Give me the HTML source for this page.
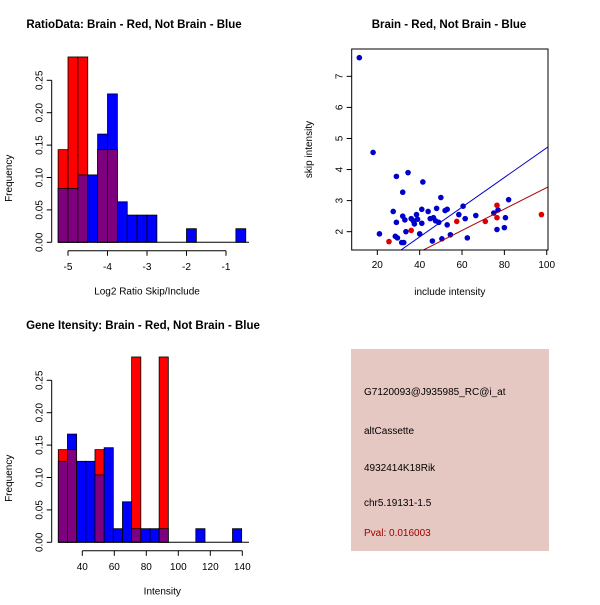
<!DOCTYPE html>
<html><head><meta charset="utf-8"><style>
body{margin:0;background:#fff}
svg text{font-family:"Liberation Sans",sans-serif}
</style></head><body>
<svg id="c" width="600" height="600" xmlns="http://www.w3.org/2000/svg">
<rect width="600" height="600" fill="#fff"/>
<text x="134" y="28" font-size="11.5" font-weight="bold" text-anchor="middle">RatioData: Brain - Red, Not Brain - Blue</text>
<text x="449" y="28" font-size="11.5" font-weight="bold" text-anchor="middle">Brain - Red, Not Brain - Blue</text>
<text x="143" y="329" font-size="11.5" font-weight="bold" text-anchor="middle">Gene Itensity: Brain - Red, Not Brain - Blue</text>
<g id="h1"></g>
<g id="h2"></g>
<g id="sc"></g>
<g>
<rect x="351" y="349" width="198" height="202" fill="#e6c8c2"/>
<text x="364" y="395" font-size="10">G7120093@J935985_RC@i_at</text>
<text x="364" y="434" font-size="10">altCassette</text>
<text x="364" y="471" font-size="10">4932414K18Rik</text>
<text x="364" y="506" font-size="10">chr5.19131-1.5</text>
<text x="364" y="536" font-size="10" fill="#a00000">Pval: 0.016003</text>
</g>
</svg>
<script>
// Ratio histogram data
const h1Start = -5.25, h1Width = 0.25;
const h1Red = [0.143,0.286,0.286,0,0.143,0.143,0,0,0,0,0,0,0,0,0,0,0,0,0];
const h1Blue = [0.083,0.083,0.104,0.104,0.167,0.229,0.0625,0.042,0.042,0.042,0,0,0,0.021,0,0,0,0,0.021];
const h1XTicks = [-5,-4,-3,-2,-1];
const yTicks = [0,0.05,0.10,0.15,0.20,0.25];
const yTickLabels = ["0.00","0.05","0.10","0.15","0.20","0.25"];
// Intensity histogram data
const h2Start = 25, h2Width = 5.73;
const h2Red = [0.143,0.143,0,0,0.143,0,0,0,0.286,0,0,0.286,0,0,0,0,0,0,0,0];
const h2Blue = [0.125,0.167,0.125,0.125,0.104,0.146,0.021,0.0625,0.021,0.021,0.021,0.021,0,0,0,0.021,0,0,0,0.021];
const h2XTicks = [40,60,80,100,120,140];
// Scatter data
const blueX = [11.5,18,21,27.5,28.5,29,29,29.5,31.5,32,32,32.5,33,33.5,34.5,36,37,37.5,38.5,39,40,41,41,41.5,44,45,46,46.5,47.5,48,49,50,50.5,52,53,53,54.5,58.5,60.5,61.5,62.5,66.5,75,76.5,77,80,80.5,82];
const blueY = [7.6,4.55,1.93,2.65,1.85,3.78,2.3,1.8,1.65,3.27,2.5,1.65,2.38,2.0,3.9,2.42,2.35,2.25,2.55,2.4,1.93,2.72,2.27,3.6,2.65,2.42,1.7,2.45,2.35,2.75,2.3,3.1,1.77,2.68,2.72,2.22,1.9,2.55,2.82,2.42,1.8,2.52,2.6,2.07,2.7,2.13,2.45,3.03];
const redX = [25.5,36,57.5,71,76.5,76.5,97.5];
const redY = [1.68,2.04,2.33,2.33,2.85,2.45,2.55];
const blueFit = [-0.08,0.0478];
const redFit = [-0.03,0.0345];
const scXTicks = [20,40,60,80,100];
const scYTicks = [2,3,4,5,6,7];

const NS="http://www.w3.org/2000/svg";
function mk(p,t,a){const e=document.createElementNS(NS,t);for(const k in a)e.setAttribute(k,a[k]);p.appendChild(e);return e;}

function hist(g,x0px,x0,pxPerUnit,y0px,yPx,start,w,red,blue,xt,xLabel,baseEnd){
  const sx=v=>x0px+(v-x0)*pxPerUnit, sy=v=>y0px-v*yPx;
  const n=Math.max(red.length,blue.length);
  for(let i=0;i<n;i++){
    const r=red[i]||0,b=blue[i]||0;
    const xl=sx(start+i*w), xr=sx(start+(i+1)*w);
    const hi=Math.max(r,b), lo=Math.min(r,b);
    if(hi>0){
      const e=mk(g,'rect',{x:xl,y:sy(hi),width:xr-xl,height:sy(0)-sy(hi),fill:r>b?'#ff0000':'#0000ff',stroke:'#000','stroke-width':0.8});
      
      
    }
    if(lo>0){
      const e=mk(g,'rect',{x:xl,y:sy(lo),width:xr-xl,height:sy(0)-sy(lo),fill:'#7f007f',stroke:'#000','stroke-width':0.8});
      
      
    }
  }
  mk(g,'line',{x1:sx(start),x2:baseEnd,y1:sy(0),y2:sy(0),stroke:'#000'});
  const ax=51.7;
  mk(g,'line',{x1:ax,x2:ax,y1:sy(0),y2:sy(0.25),stroke:'#000'});
  yTicks.forEach((t,i)=>{
    mk(g,'line',{x1:ax-5,x2:ax,y1:sy(t),y2:sy(t),stroke:'#000'});
    const tx=mk(g,'text',{x:0,y:0,'font-size':10,'text-anchor':'middle',transform:`translate(${ax-9},${sy(t)}) rotate(-90)`});
    tx.textContent=yTickLabels[i];
    
    
  });
  const yl=mk(g,'text',{x:0,y:0,'font-size':10,'text-anchor':'middle',transform:`translate(12,${(sy(0)+sy(0.25))/2+17}) rotate(-90)`});
  yl.textContent='Frequency';
  
  
  const ay=y0px+8.5;
  mk(g,'line',{x1:sx(xt[0]),x2:sx(xt[xt.length-1]),y1:ay,y2:ay,stroke:'#000'});
  xt.forEach(t=>{
    mk(g,'line',{x1:sx(t),x2:sx(t),y1:ay,y2:ay+5,stroke:'#000'});
    const tx=mk(g,'text',{x:sx(t),y:ay+19,'font-size':10,'text-anchor':'middle'});
    tx.textContent=t;
    
    
  });
  const xl=mk(g,'text',{x:(sx(xt[0])+sx(xt[xt.length-1]))/2,y:y0px+52,'font-size':10,'text-anchor':'middle'});
  xl.textContent=xLabel;
  
  
}
hist(document.getElementById('h1'),68,-5,39.5,242.3,648,h1Start,h1Width,h1Red,h1Blue,h1XTicks,'Log2 Ratio Skip/Include',249);
hist(document.getElementById('h2'),82.3,40,1.6,542.3,648,h2Start,h2Width,h2Red,h2Blue,h2XTicks,'Intensity',249);

(function(){
  const g=document.getElementById('sc');
  const L=351.7,R=548,T=49,B=250;
  const xmin=7.9,xmax=100.6,ymin=1.41,ymax=7.88;
  const sx=v=>L+(v-xmin)/(xmax-xmin)*(R-L), sy=v=>B-(v-ymin)/(ymax-ymin)*(B-T);
  const cp=mk(g,'clipPath',{id:'clp'});mk(cp,'rect',{x:L,y:T,width:R-L,height:B-T});
  blueX.forEach((x,i)=>{const c=mk(g,'circle',{cx:sx(x),cy:sy(blueY[i]),r:2.8,fill:'#0000cc'});
    
    });
  redX.forEach((x,i)=>{const c=mk(g,'circle',{cx:sx(x),cy:sy(redY[i]),r:2.8,fill:'#dd0000'});
    
    });
  const lg=mk(g,'g',{'clip-path':'url(#clp)'});
  const bl=mk(lg,'line',{x1:sx(xmin),y1:sy(blueFit[0]+blueFit[1]*xmin),x2:sx(xmax),y2:sy(blueFit[0]+blueFit[1]*xmax),stroke:'#0000cc'});
  
  
  const rl=mk(lg,'line',{x1:sx(xmin),y1:sy(redFit[0]+redFit[1]*xmin),x2:sx(xmax),y2:sy(redFit[0]+redFit[1]*xmax),stroke:'#aa0000'});
  
  
  mk(g,'rect',{x:L,y:T,width:R-L,height:B-T,fill:'none',stroke:'#000'});
  scXTicks.forEach(t=>{mk(g,'line',{x1:sx(t),x2:sx(t),y1:B,y2:B+5,stroke:'#000'});
    const tx=mk(g,'text',{x:sx(t),y:B+18,'font-size':10,'text-anchor':'middle'});tx.textContent=t;
    
    });
  scYTicks.forEach(t=>{mk(g,'line',{x1:L-5,x2:L,y1:sy(t),y2:sy(t),stroke:'#000'});
    const tx=mk(g,'text',{x:0,y:0,'font-size':10,'text-anchor':'middle',transform:`translate(${L-9},${sy(t)}) rotate(-90)`});tx.textContent=t;
    
    });
  const xl=mk(g,'text',{x:(L+R)/2,y:295,'font-size':10,'text-anchor':'middle'});xl.textContent='include intensity';
  
  
  const yl=mk(g,'text',{x:0,y:0,'font-size':10,'text-anchor':'middle',transform:`translate(312,${(T+B)/2}) rotate(-90)`});yl.textContent='skip intensity';
  
  
})();
</script>
</body></html>
